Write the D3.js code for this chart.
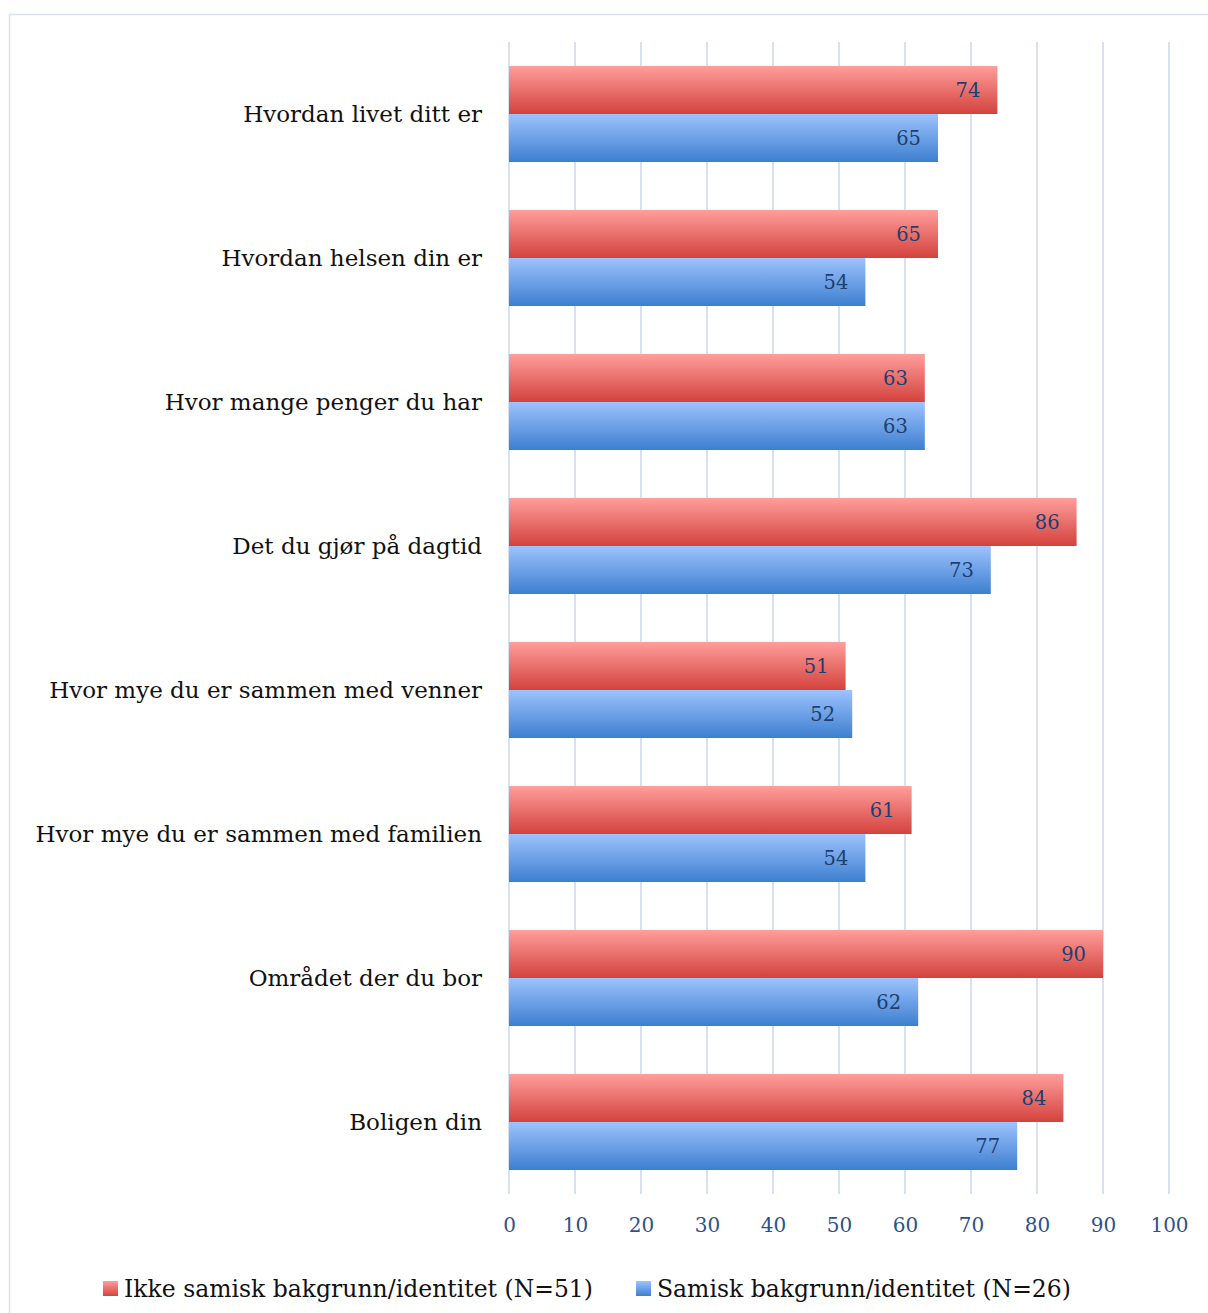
<!DOCTYPE html>
<html><head><meta charset="utf-8">
<script src="https://cdn.jsdelivr.net/npm/d3@7"></script>
<style>body{margin:0;background:#fff}</style>
</head><body>
<svg id="c" width="1208" height="1313"></svg>
<script>
const categories = ["Hvordan livet ditt er","Hvordan helsen din er","Hvor mange penger du har","Det du gjør på dagtid","Hvor mye du er sammen med venner","Hvor mye du er sammen med familien","Området der du bor","Boligen din"];
const seriesNames = ["Ikke samisk bakgrunn/identitet (N=51)","Samisk bakgrunn/identitet (N=26)"];
const ikkeSamisk = [74,65,63,86,51,61,90,84];
const samisk = [65,54,63,73,52,54,62,77];
const ticks = [0,10,20,30,40,50,60,70,80,90,100];

const svg = d3.select("#c");
const font = "'DejaVu Serif', serif";
const defs = svg.append("defs");
function grad(id, top, bot){
  const g = defs.append("linearGradient").attr("id",id).attr("x1",0).attr("y1",0).attr("x2",0).attr("y2",1);
  g.append("stop").attr("offset","0%").attr("stop-color",top);
  g.append("stop").attr("offset","100%").attr("stop-color",bot);
}
grad("gr","#FF9E9B","#D3423D");
grad("gb","#9DC3FF","#3D7FCF");

// chart border
svg.append("rect").attr("x",9.5).attr("y",14.5).attr("width",1220).attr("height",1320)
  .attr("fill","none").attr("stroke","#D9E3EF").attr("stroke-width",1.5);

const x = d3.scaleLinear().domain([0,100]).range([509,1169]);
const y = d3.scaleBand().domain(categories).range([42,1194]).paddingInner(1/3).paddingOuter(1/6);
const sub = d3.scaleBand().domain([0,1]).range([0,y.bandwidth()]);

// gridlines
svg.append("g").selectAll("line").data(ticks).join("line")
  .attr("x1",d=>x(d)).attr("x2",d=>x(d)).attr("y1",42).attr("y2",1194)
  .attr("stroke","#D6E2F1").attr("stroke-width",2);

const series = [ikkeSamisk, samisk];
const fills = ["url(#gr)","url(#gb)"];
series.forEach((vals,si)=>{
  const g = svg.append("g");
  g.selectAll("rect").data(vals).join("rect")
    .attr("x",x(0)).attr("y",(d,i)=>y(categories[i])+sub(si))
    .attr("width",d=>x(d)-x(0)).attr("height",sub.bandwidth())
    .attr("fill",fills[si]);
  g.selectAll("text").data(vals).join("text")
    .attr("x",d=>x(d)-17).attr("y",(d,i)=>y(categories[i])+sub(si)+sub.bandwidth()/2)
    .attr("dy","0.35em").attr("text-anchor","end")
    .attr("font-family",font).attr("font-size",19.5).attr("fill","#1F3F6E")
    .text(d=>d);
});

// category labels
svg.append("g").selectAll("text").data(categories).join("text")
  .attr("x",482).attr("y",d=>y(d)+y.bandwidth()/2).attr("dy","0.35em")
  .attr("text-anchor","end").attr("font-family",font).attr("font-size",23).attr("fill","#111")
  .text(d=>d);

// x axis tick labels
const ax = svg.append("g").attr("transform","translate(0,1194)")
  .call(d3.axisBottom(x).tickValues(ticks).tickSize(0).tickPadding(24));
ax.select(".domain").remove();
ax.selectAll("text").attr("font-family",font).attr("font-size",20).attr("fill","#2B5290");

// legend
const leg = [{x:103,name:seriesNames[0],f:"url(#gr)"},{x:636,name:seriesNames[1],f:"url(#gb)"}];
leg.forEach(l=>{
  svg.append("rect").attr("x",l.x).attr("y",1281).attr("width",15).attr("height",15).attr("fill",l.f);
  svg.append("text").attr("x",l.x+21).attr("y",1289).attr("dy","0.35em")
    .attr("font-family",font).attr("font-size",23.5).attr("fill","#111").text(l.name);
});
</script>
</body></html>
